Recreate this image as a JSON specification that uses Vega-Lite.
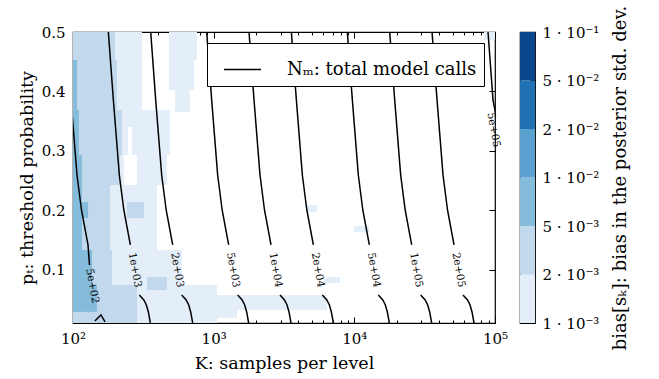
{
  "$schema": "https://vega.github.io/schema/vega-lite/v6.json",
  "padding": {"left": 17, "top": 4, "right": 5, "bottom": 5},
  "config": {
    "font": "DejaVu Serif",
    "view": {"stroke": "#000", "strokeWidth": 1.2},
    "axis": {"labelFont": "DejaVu Serif", "titleFont": "DejaVu Serif", "labelFontSize": 15, "titleFontSize": 17.5, "titleFontWeight": "normal", "labelColor": "#000", "titleColor": "#000", "tickColor": "#000", "tickWidth": 1, "domain": false, "grid": false},
    "concat": {"spacing": 10}
  },
  "datasets": {
    "cells": [
      {"k1": 100, "k2": 198.9, "p1": 0.4529, "p2": 0.5, "lv": 2},
      {"k1": 198.9, "k2": 309.5, "p1": 0.4529, "p2": 0.5, "lv": 1},
      {"k1": 481.4, "k2": 761.3, "p1": 0.4529, "p2": 0.5, "lv": 1},
      {"k1": 83500, "k2": 100000, "p1": 0.4865, "p2": 0.5, "lv": 1},
      {"k1": 100, "k2": 106.8, "p1": 0.3687, "p2": 0.4529, "lv": 3},
      {"k1": 106.8, "k2": 205.5, "p1": 0.3687, "p2": 0.4529, "lv": 2},
      {"k1": 205.5, "k2": 309.5, "p1": 0.3687, "p2": 0.4529, "lv": 1},
      {"k1": 481.4, "k2": 725.6, "p1": 0.4023, "p2": 0.4529, "lv": 1},
      {"k1": 531.7, "k2": 675.5, "p1": 0.3653, "p2": 0.4023, "lv": 1},
      {"k1": 100, "k2": 110.3, "p1": 0.2929, "p2": 0.3687, "lv": 3},
      {"k1": 110.3, "k2": 223, "p1": 0.2929, "p2": 0.3687, "lv": 2},
      {"k1": 223, "k2": 246.1, "p1": 0.2929, "p2": 0.3687, "lv": 1},
      {"k1": 262.8, "k2": 489.2, "p1": 0.2929, "p2": 0.3687, "lv": 1},
      {"k1": 246.1, "k2": 262.8, "p1": 0.34, "p2": 0.3687, "lv": 1},
      {"k1": 100, "k2": 115.8, "p1": 0.2424, "p2": 0.2929, "lv": 3},
      {"k1": 115.8, "k2": 216, "p1": 0.2424, "p2": 0.2929, "lv": 2},
      {"k1": 216, "k2": 230.3, "p1": 0.2424, "p2": 0.2929, "lv": 1},
      {"k1": 285, "k2": 465.9, "p1": 0.2424, "p2": 0.2929, "lv": 1},
      {"k1": 100, "k2": 115.8, "p1": 0.1329, "p2": 0.2424, "lv": 3},
      {"k1": 115.8, "k2": 183.2, "p1": 0.1329, "p2": 0.2424, "lv": 2},
      {"k1": 183.2, "k2": 395.6, "p1": 0.1329, "p2": 0.2424, "lv": 1},
      {"k1": 242, "k2": 319.6, "p1": 0.1868, "p2": 0.2138, "lv": 2},
      {"k1": 100, "k2": 127.9, "p1": 0.1868, "p2": 0.2138, "lv": 3},
      {"k1": 4607, "k2": 5427, "p1": 0.1969, "p2": 0.2087, "lv": 1},
      {"k1": 9945, "k2": 12710, "p1": 0.1632, "p2": 0.1733, "lv": 1},
      {"k1": 100, "k2": 136.5, "p1": 0.074, "p2": 0.1329, "lv": 3},
      {"k1": 136.5, "k2": 189.3, "p1": 0.074, "p2": 0.1329, "lv": 2},
      {"k1": 189.3, "k2": 595.6, "p1": 0.074, "p2": 0.1329, "lv": 1},
      {"k1": 6086, "k2": 7907, "p1": 0.0774, "p2": 0.0875, "lv": 1},
      {"k1": 100, "k2": 148.1, "p1": 0.0286, "p2": 0.074, "lv": 3},
      {"k1": 148.1, "k2": 285, "p1": 0.01, "p2": 0.074, "lv": 2},
      {"k1": 100, "k2": 148.1, "p1": 0.01, "p2": 0.0286, "lv": 2},
      {"k1": 285, "k2": 1056, "p1": 0.01, "p2": 0.074, "lv": 1},
      {"k1": 335.7, "k2": 465.9, "p1": 0.0656, "p2": 0.0875, "lv": 2},
      {"k1": 1056, "k2": 6392, "p1": 0.0319, "p2": 0.0572, "lv": 1},
      {"k1": 1056, "k2": 1465, "p1": 0.0185, "p2": 0.0403, "lv": 1}
    ],
    "lines": [
      {"g": "500u", "i": 0, "K": 89.2, "p": 0.5},
      {"g": "500u", "i": 1, "K": 96.8, "p": 0.3855},
      {"g": "500u", "i": 2, "K": 106.75, "p": 0.2592},
      {"g": "500u", "i": 3, "K": 114.9, "p": 0.2003},
      {"g": "500u", "i": 4, "K": 127.85, "p": 0.1414},
      {"g": "500u", "i": 5, "K": 131, "p": 0.1076},
      {"g": "500l", "i": 0, "K": 143, "p": 0.0134},
      {"g": "500l", "i": 1, "K": 158, "p": 0.0235},
      {"g": "500l", "i": 2, "K": 169, "p": 0.0117},
      {"g": "1e3u", "i": 0, "K": 178.4, "p": 0.5},
      {"g": "1e3u", "i": 1, "K": 193.6, "p": 0.3855},
      {"g": "1e3u", "i": 2, "K": 213.5, "p": 0.2592},
      {"g": "1e3u", "i": 3, "K": 229.8, "p": 0.2003},
      {"g": "1e3u", "i": 4, "K": 255.7, "p": 0.1414},
      {"g": "1e3l", "i": 0, "K": 296.1, "p": 0.0572},
      {"g": "1e3l", "i": 1, "K": 318.8, "p": 0.0487},
      {"g": "1e3l", "i": 2, "K": 332.3, "p": 0.0403},
      {"g": "1e3l", "i": 3, "K": 343.3, "p": 0.0286},
      {"g": "1e3l", "i": 4, "K": 354.6, "p": 0.01},
      {"g": "2e3u", "i": 0, "K": 356.8, "p": 0.5},
      {"g": "2e3u", "i": 1, "K": 387.2, "p": 0.3855},
      {"g": "2e3u", "i": 2, "K": 427, "p": 0.2592},
      {"g": "2e3u", "i": 3, "K": 459.6, "p": 0.2003},
      {"g": "2e3u", "i": 4, "K": 511.4, "p": 0.1414},
      {"g": "2e3l", "i": 0, "K": 592.2, "p": 0.0572},
      {"g": "2e3l", "i": 1, "K": 637.6, "p": 0.0487},
      {"g": "2e3l", "i": 2, "K": 664.6, "p": 0.0403},
      {"g": "2e3l", "i": 3, "K": 686.6, "p": 0.0286},
      {"g": "2e3l", "i": 4, "K": 709.2, "p": 0.01},
      {"g": "5e3u", "i": 0, "K": 892, "p": 0.5},
      {"g": "5e3u", "i": 1, "K": 968, "p": 0.3855},
      {"g": "5e3u", "i": 2, "K": 1067.5, "p": 0.2592},
      {"g": "5e3u", "i": 3, "K": 1149, "p": 0.2003},
      {"g": "5e3u", "i": 4, "K": 1278.5, "p": 0.1414},
      {"g": "5e3l", "i": 0, "K": 1480.5, "p": 0.0572},
      {"g": "5e3l", "i": 1, "K": 1594, "p": 0.0487},
      {"g": "5e3l", "i": 2, "K": 1661.5, "p": 0.0403},
      {"g": "5e3l", "i": 3, "K": 1716.5, "p": 0.0286},
      {"g": "5e3l", "i": 4, "K": 1773, "p": 0.01},
      {"g": "1e4u", "i": 0, "K": 1784, "p": 0.5},
      {"g": "1e4u", "i": 1, "K": 1936, "p": 0.3855},
      {"g": "1e4u", "i": 2, "K": 2135, "p": 0.2592},
      {"g": "1e4u", "i": 3, "K": 2298, "p": 0.2003},
      {"g": "1e4u", "i": 4, "K": 2557, "p": 0.1414},
      {"g": "1e4l", "i": 0, "K": 2961, "p": 0.0572},
      {"g": "1e4l", "i": 1, "K": 3188, "p": 0.0487},
      {"g": "1e4l", "i": 2, "K": 3323, "p": 0.0403},
      {"g": "1e4l", "i": 3, "K": 3433, "p": 0.0286},
      {"g": "1e4l", "i": 4, "K": 3546, "p": 0.01},
      {"g": "2e4u", "i": 0, "K": 3568, "p": 0.5},
      {"g": "2e4u", "i": 1, "K": 3872, "p": 0.3855},
      {"g": "2e4u", "i": 2, "K": 4270, "p": 0.2592},
      {"g": "2e4u", "i": 3, "K": 4596, "p": 0.2003},
      {"g": "2e4u", "i": 4, "K": 5114, "p": 0.1414},
      {"g": "2e4l", "i": 0, "K": 5922, "p": 0.0572},
      {"g": "2e4l", "i": 1, "K": 6376, "p": 0.0487},
      {"g": "2e4l", "i": 2, "K": 6646, "p": 0.0403},
      {"g": "2e4l", "i": 3, "K": 6866, "p": 0.0286},
      {"g": "2e4l", "i": 4, "K": 7092, "p": 0.01},
      {"g": "5e4u", "i": 0, "K": 8920, "p": 0.5},
      {"g": "5e4u", "i": 1, "K": 9680, "p": 0.3855},
      {"g": "5e4u", "i": 2, "K": 10675, "p": 0.2592},
      {"g": "5e4u", "i": 3, "K": 11490, "p": 0.2003},
      {"g": "5e4u", "i": 4, "K": 12785, "p": 0.1414},
      {"g": "5e4l", "i": 0, "K": 14805, "p": 0.0572},
      {"g": "5e4l", "i": 1, "K": 15940, "p": 0.0487},
      {"g": "5e4l", "i": 2, "K": 16615, "p": 0.0403},
      {"g": "5e4l", "i": 3, "K": 17165, "p": 0.0286},
      {"g": "5e4l", "i": 4, "K": 17730, "p": 0.01},
      {"g": "1e5u", "i": 0, "K": 17840, "p": 0.5},
      {"g": "1e5u", "i": 1, "K": 19360, "p": 0.3855},
      {"g": "1e5u", "i": 2, "K": 21350, "p": 0.2592},
      {"g": "1e5u", "i": 3, "K": 22980, "p": 0.2003},
      {"g": "1e5u", "i": 4, "K": 25570, "p": 0.1414},
      {"g": "1e5l", "i": 0, "K": 29610, "p": 0.0572},
      {"g": "1e5l", "i": 1, "K": 31880, "p": 0.0487},
      {"g": "1e5l", "i": 2, "K": 33230, "p": 0.0403},
      {"g": "1e5l", "i": 3, "K": 34330, "p": 0.0286},
      {"g": "1e5l", "i": 4, "K": 35460, "p": 0.01},
      {"g": "2e5u", "i": 0, "K": 35680, "p": 0.5},
      {"g": "2e5u", "i": 1, "K": 38720, "p": 0.3855},
      {"g": "2e5u", "i": 2, "K": 42700, "p": 0.2592},
      {"g": "2e5u", "i": 3, "K": 45960, "p": 0.2003},
      {"g": "2e5u", "i": 4, "K": 51140, "p": 0.1414},
      {"g": "2e5l", "i": 0, "K": 59220, "p": 0.0572},
      {"g": "2e5l", "i": 1, "K": 63760, "p": 0.0487},
      {"g": "2e5l", "i": 2, "K": 66460, "p": 0.0403},
      {"g": "2e5l", "i": 3, "K": 68660, "p": 0.0286},
      {"g": "2e5l", "i": 4, "K": 70920, "p": 0.01},
      {"g": "5e5u", "i": 0, "K": 89200, "p": 0.5},
      {"g": "5e5u", "i": 1, "K": 96800, "p": 0.3855},
      {"g": "5e5u", "i": 2, "K": 101500, "p": 0.36}
    ],
    "labels": [
      {"t": "5e+02", "K": 137, "p": 0.0723},
      {"t": "1e+03", "K": 275, "p": 0.0993},
      {"t": "2e+03", "K": 550, "p": 0.0993},
      {"t": "5e+03", "K": 1375, "p": 0.0993},
      {"t": "1e+04", "K": 2750, "p": 0.0993},
      {"t": "2e+04", "K": 5500, "p": 0.0993},
      {"t": "5e+04", "K": 13750, "p": 0.0993},
      {"t": "1e+05", "K": 27500, "p": 0.0993},
      {"t": "2e+05", "K": 55000, "p": 0.0993},
      {"t": "5e+05", "K": 97500, "p": 0.335}
    ],
    "bar": [
      {"lo": 0, "hi": 1, "lv": 1},
      {"lo": 1, "hi": 2, "lv": 2},
      {"lo": 2, "hi": 3, "lv": 3},
      {"lo": 3, "hi": 4, "lv": 4},
      {"lo": 4, "hi": 5, "lv": 5},
      {"lo": 5, "hi": 6, "lv": 6}
    ]
  },
  "resolve": {"legend": {"stroke": "independent", "color": "independent"}},
  "hconcat": [
    {
      "width": 422,
      "height": 291,
      "resolve": {"axis": {"x": "independent", "y": "independent"}},
      "layer": [
        {
          "data": {"name": "cells"},
          "mark": {"type": "rect"},
          "encoding": {
            "x": {"field": "k1", "type": "quantitative", "scale": {"type": "log", "domain": [100, 100000]},
              "axis": {"orient": "bottom", "values": [100,200,300,400,500,600,700,800,900,1000,2000,3000,4000,5000,6000,7000,8000,9000,10000,20000,30000,40000,50000,60000,70000,80000,90000,100000],
                "labelExpr": "datum.value == 100 ? '10²' : datum.value == 1000 ? '10³' : datum.value == 10000 ? '10⁴' : datum.value == 100000 ? '10⁵' : ''",
                "tickSize": {"condition": {"test": "datum.value == 100 || datum.value == 1000 || datum.value == 10000 || datum.value == 100000", "value": -6}, "value": -3},
                "labelPadding": 14, "labelFlush": false, "labelOverlap": false, "title": "K: samples per level", "titlePadding": 5}},
            "x2": {"field": "k2"},
            "y": {"field": "p1", "type": "quantitative", "scale": {"domain": [0.01, 0.5], "nice": false, "zero": false},
              "axis": {"orient": "left", "values": [0.1, 0.2, 0.3, 0.4, 0.5], "format": ".1f", "tickSize": -6, "labelPadding": 14, "labelFlush": false, "title": "pₜ: threshold probability", "titlePadding": 5}},
            "y2": {"field": "p2"},
            "color": {"field": "lv", "type": "ordinal", "scale": {"domain": [0,1,2,3,4,5,6], "range": ["#ffffff","#e3eef8","#c1d8ed","#85bcdc","#5aa1cf","#2070b4","#09468b"]}, "legend": null}
          }
        },
        {
          "data": {"name": "lines"},
          "mark": {"type": "line", "strokeWidth": 1.5, "clip": true},
          "encoding": {
            "x": {"field": "K", "type": "quantitative", "scale": {"type": "log", "domain": [100, 100000]}, "axis": null},
            "y": {"field": "p", "type": "quantitative", "scale": {"domain": [0.01, 0.5], "nice": false, "zero": false}, "axis": null},
            "detail": {"field": "g", "type": "nominal"},
            "order": {"field": "i", "type": "quantitative"},
            "stroke": {"datum": "Nₘ: total model calls\u00a0\u00a0\u00a0\u00a0", "type": "nominal", "scale": {"range": ["#000000"]},
              "legend": {"orient": "top-right", "offset": 11, "title": null, "symbolType": "stroke", "symbolSize": 1369, "symbolStrokeWidth": 1.5, "labelFont": "DejaVu Serif", "labelFontSize": 18, "labelColor": "#000", "labelLimit": 500, "labelOffset": 25, "padding": 7, "symbolOffset": 9, "strokeColor": "#000", "fillColor": "#fff", "cornerRadius": 0}}
          }
        },
        {
          "data": {"name": "labels"},
          "mark": {"type": "text", "angle": 80, "fontSize": 10.5, "font": "DejaVu Serif", "align": "center", "baseline": "middle", "color": "#000"},
          "encoding": {
            "x": {"field": "K", "type": "quantitative", "scale": {"type": "log", "domain": [100, 100000]}, "axis": null},
            "y": {"field": "p", "type": "quantitative", "scale": {"domain": [0.01, 0.5], "nice": false, "zero": false}, "axis": null},
            "text": {"field": "t"}
          }
        },
        {
          "data": {"values": [{"K": 100, "p": 0.5}]},
          "mark": {"type": "point", "opacity": 0},
          "encoding": {
            "x": {"field": "K", "type": "quantitative", "scale": {"type": "log", "domain": [100, 100000]},
              "axis": {"orient": "top", "values": [100,200,300,400,500,600,700,800,900,1000,2000,3000,4000,5000,6000,7000,8000,9000,10000,20000,30000,40000,50000,60000,70000,80000,90000,100000], "labels": false, "title": null, "minExtent": 0,
                "tickSize": {"condition": {"test": "datum.value == 100 || datum.value == 1000 || datum.value == 10000 || datum.value == 100000", "value": -6}, "value": -3}}},
            "y": {"field": "p", "type": "quantitative", "scale": {"domain": [0.01, 0.5], "nice": false, "zero": false},
              "axis": {"orient": "right", "values": [0.1, 0.2, 0.3, 0.4, 0.5], "labels": false, "title": null, "tickSize": -6, "minExtent": 0}}
          }
        }
      ]
    },
    {
      "width": 15,
      "height": 291,
      "data": {"name": "bar"},
      "mark": {"type": "rect"},
      "encoding": {
        "y": {"field": "lo", "type": "quantitative", "scale": {"domain": [0, 6], "nice": false, "zero": false},
          "axis": {"orient": "right", "values": [0,1,2,3,4,5,6], "labelExpr": "['1 · 10⁻³','2 · 10⁻³','5 · 10⁻³','1 · 10⁻²','2 · 10⁻²','5 · 10⁻²','1 · 10⁻¹'][datum.value]", "tickSize": -5, "labelPadding": 12, "labelFlush": false, "labelOverlap": false, "title": "bias[sₖ]: bias in the posterior std. dev.", "titleFontSize": 18, "titleAngle": 270, "titleBaseline": "top", "titlePadding": 13}},
        "y2": {"field": "hi"},
        "color": {"field": "lv", "type": "ordinal", "scale": {"domain": [0,1,2,3,4,5,6], "range": ["#ffffff","#e3eef8","#c1d8ed","#85bcdc","#5aa1cf","#2070b4","#09468b"]}, "legend": null}
      }
    }
  ]
}
